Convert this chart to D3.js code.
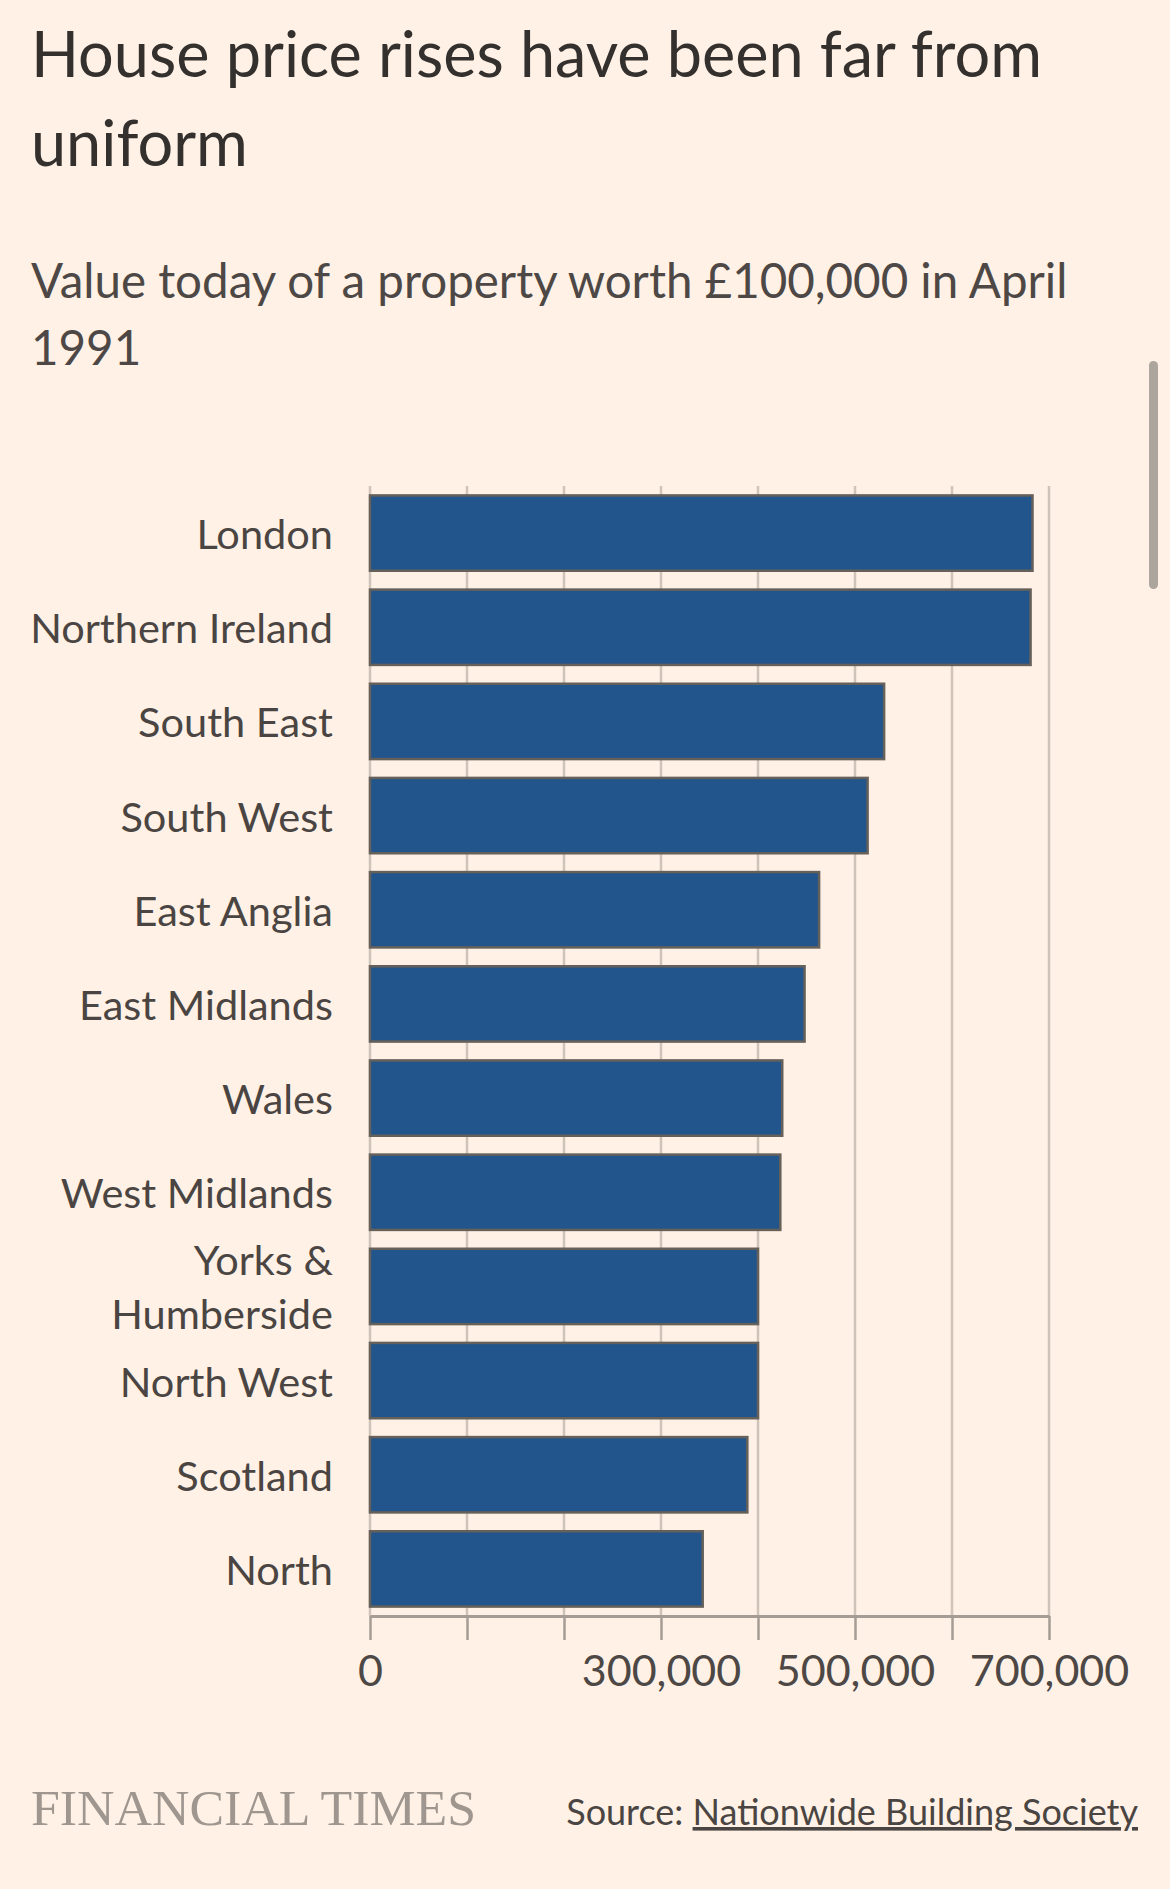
<!DOCTYPE html>
<html>
<head>
<meta charset="utf-8">
<script src="https://cdn.jsdelivr.net/npm/d3@7"></script>
<style>
  html, body { margin: 0; padding: 0; background: #fff1e5; }
  svg { display: block; }
</style>
</head>
<body>
<div id="chart"></div>
<script>
// Data
const categories = [
    "London", "Northern Ireland", "South East", "South West", "East Anglia",
    "East Midlands", "Wales", "West Midlands", "Yorks & Humberside",
    "North West", "Scotland", "North"
];
const values = [
    683000, 681000, 530000, 513000, 463000,
    448000, 425000, 423000, 400000,
    400000, 389000, 343000
];
const xTicks = [0, 100000, 200000, 300000, 400000, 500000, 600000, 700000];
const xTickLabels = [0, 300000, 500000, 700000];

const title = "House price rises have been far from uniform";
const subtitle = "Value today of a property worth £100,000 in April 1991";

const width = 1170, height = 1889;
const sans = "Lato, 'Noto Sans', sans-serif";

const svg = d3.select("#chart")
    .append("svg")
    .attr("width", width)
    .attr("height", height);

svg.append("rect")
    .attr("width", width)
    .attr("height", height)
    .attr("fill", "#fff1e5");

// simple greedy word wrap into tspans
function wrapText(textSel, maxWidth, lineHeight) {
    const words = textSel.text().split(" ");
    const x = textSel.attr("x");
    textSel.text(null);
    let line = [];
    let tspan = textSel.append("tspan").attr("x", x);
    let lines = [tspan];
    words.forEach(w => {
        line.push(w);
        tspan.text(line.join(" "));
        if (tspan.node().getComputedTextLength() > maxWidth && line.length > 1) {
            line.pop();
            tspan.text(line.join(" "));
            line = [w];
            tspan = textSel.append("tspan").attr("x", x).attr("dy", lineHeight).text(w);
            lines.push(tspan);
        }
    });
    return lines.length;
}

// Titles
svg.append("text")
    .attr("x", 31)
    .attr("y", 77)
    .style("font-family", sans)
    .style("font-size", "63px")
    .style("fill", "#33302e")
    .text(title)
    .call(t => wrapText(t, 1080, 89));

svg.append("text")
    .attr("x", 31)
    .attr("y", 298)
    .style("font-family", sans)
    .style("font-size", "47.5px")
    .style("fill", "#4d4845")
    .text(subtitle)
    .call(t => wrapText(t, 1100, 67));

// Scales
const x = d3.scaleLinear()
    .domain([0, 700000])
    .range([370, 1049]);

const y = d3.scaleBand()
    .domain(categories)
    .range([486, 1616])
    .paddingInner(0.2)
    .paddingOuter(0.1);

// Gridlines
svg.selectAll(".grid")
    .data(xTicks)
    .enter()
    .append("line")
    .attr("class", "grid")
    .attr("x1", d => x(d))
    .attr("x2", d => x(d))
    .attr("y1", y.range()[0])
    .attr("y2", y.range()[1])
    .style("stroke", "#cfc4b9")
    .style("stroke-width", 2.5);

// Bars
svg.selectAll(".bar")
    .data(categories)
    .enter()
    .append("rect")
    .attr("class", "bar")
    .attr("x", x(0))
    .attr("y", d => y(d))
    .attr("width", (d, i) => x(values[i]) - x(0))
    .attr("height", y.bandwidth())
    .style("fill", "#21558b")
    .style("stroke", "#66605b")
    .style("stroke-width", 2.5);

// Category labels
const labels = svg.selectAll(".label")
    .data(categories)
    .enter()
    .append("text")
    .attr("class", "label")
    .attr("x", 333)
    .style("font-family", sans)
    .style("font-size", "41.5px")
    .style("fill", "#4a4542")
    .style("text-anchor", "end")
    .text(d => d);

labels.each(function (d) {
    const t = d3.select(this);
    const n = wrapText(t, 320, 54);
    const cy = y(d) + y.bandwidth() / 2;
    t.attr("y", cy + 16 - (n - 1) * 27);
});

// Axis
const axis = svg.append("g")
    .attr("transform", `translate(0,${y.range()[1]})`)
    .call(d3.axisBottom(x)
        .tickValues(xTicks)
        .tickSize(24)
        .tickSizeOuter(0)
        .tickFormat(d => xTickLabels.includes(d) ? d3.format(",")(d) : ""));

axis.select(".domain")
    .style("stroke", "#a49c95")
    .style("stroke-width", 3);
axis.selectAll(".tick line")
    .style("stroke", "#a49c95")
    .style("stroke-width", 2.5);
axis.selectAll(".tick text")
    .attr("y", 39)
    .style("font-family", sans)
    .style("font-size", "43px")
    .style("fill", "#4d4845");

// Footer
svg.append("text")
    .attr("x", 31)
    .attr("y", 1825)
    .attr("textLength", 445)
    .attr("lengthAdjust", "spacingAndGlyphs")
    .style("font-family", "'Liberation Serif', serif")
    .style("font-size", "51px")
    .style("fill", "#9e968f")
    .text("FINANCIAL TIMES");

const source = svg.append("text")
    .attr("x", 1138)
    .attr("y", 1825)
    .style("font-family", sans)
    .style("font-size", "36px")
    .style("fill", "#4a4542")
    .style("text-anchor", "end");
source.append("tspan").text("Source: ");
source.append("tspan")
    .style("text-decoration", "underline")
    .text("Nationwide Building Society");

// scroll bar seen at right of the screenshot
svg.append("rect")
    .attr("x", 1149)
    .attr("y", 361)
    .attr("width", 9)
    .attr("height", 228)
    .attr("rx", 4.5)
    .style("fill", "#aca59e");
</script>
</body>
</html>
